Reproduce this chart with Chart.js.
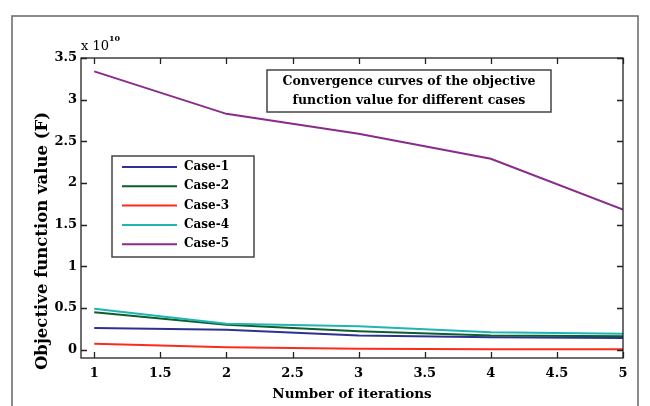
<!DOCTYPE html>
<html>
<head>
<meta charset="utf-8">
<script src="https://cdn.jsdelivr.net/npm/chart.js@4.4.1/dist/chart.umd.min.js"></script>
<style>
html, body { margin: 0; padding: 0; background: #fff; }
</style>
</head>
<body>
<canvas id="myChart" width="650" height="406"></canvas>
<script>
// objective function values, in units of 10^10
const iterations = [1, 2, 3, 4, 5];
const case1 = [0.26, 0.24, 0.17, 0.15, 0.14];
const case2 = [0.45, 0.30, 0.22, 0.17, 0.16];
const case3 = [0.07, 0.03, 0.01, 0.005, 0.005];
const case4 = [0.49, 0.31, 0.28, 0.21, 0.19];
const case5 = [3.34, 2.83, 2.59, 2.29, 1.68];
const caseLabels = ['Case-1', 'Case-2', 'Case-3', 'Case-4', 'Case-5'];
const caseColors = ['#2e3192', '#0b5e2e', '#ff2b1a', '#22b3b3', '#8a2b8c'];
const xTicks = [1, 1.5, 2, 2.5, 3, 3.5, 4, 4.5, 5];
const yTicks = [0, 0.5, 1, 1.5, 2, 2.5, 3, 3.5];
const titleLines = ['Convergence curves of the objective', 'function value for different cases'];
const yTitle = 'Objective function value (F)';

const serif = 'DejaVu Serif';
const allCases = [case1, case2, case3, case4, case5];

const datasets = allCases.map(function (values, i) {
    return {
        label: caseLabels[i],
        data: iterations.map(function (x, j) { return { x: x, y: values[j] }; }),
        borderColor: caseColors[i],
        backgroundColor: caseColors[i],
        borderWidth: 2,
        pointRadius: 0,
        tension: 0,
        order: 5 - i
    };
});

// frame, inward ticks, legend box, title box, exponent label, y title
const matlabLook = {
    id: 'matlabLook',
    beforeDraw: function (chart) {
        const c = chart.ctx;
        c.save();
        c.strokeStyle = '#666';
        c.lineWidth = 1.5;
        c.strokeRect(12, 16, 626, 420);
        c.restore();
    },
    afterDraw: function (chart) {
        const c = chart.ctx;
        const a = chart.chartArea;
        const xs = chart.scales.x;
        const ys = chart.scales.y;
        c.save();
        c.strokeStyle = '#222';
        c.lineWidth = 1.3;
        c.strokeRect(a.left, a.top, a.right - a.left, a.bottom - a.top);
        c.beginPath();
        xTicks.forEach(function (v) {
            const px = Math.round(xs.getPixelForValue(v)) + 0.5;
            c.moveTo(px, a.bottom); c.lineTo(px, a.bottom - 6);
            c.moveTo(px, a.top); c.lineTo(px, a.top + 6);
        });
        yTicks.forEach(function (v) {
            const py = Math.round(ys.getPixelForValue(v)) + 0.5;
            c.moveTo(a.left, py); c.lineTo(a.left + 6, py);
            c.moveTo(a.right, py); c.lineTo(a.right - 6, py);
        });
        c.stroke();

        // y axis title (sits lower than the axis centre in the original)
        c.fillStyle = '#000';
        c.save();
        c.translate(43, 241);
        c.rotate(-Math.PI / 2);
        c.textAlign = 'center';
        c.textBaseline = 'middle';
        c.font = 'bold 16.5px "' + serif + '"';
        c.fillText(yTitle, 0, 0);
        c.restore();

        // exponent
        c.textBaseline = 'alphabetic';
        c.textAlign = 'left';
        c.font = '13px "' + serif + '"';
        c.fillText('x 10', 81, 50);
        c.font = 'bold 8px "' + serif + '"';
        c.fillText('10', 109, 41);

        // title box
        c.fillStyle = '#fff';
        c.fillRect(267, 70, 284, 42);
        c.strokeStyle = '#444';
        c.lineWidth = 1.5;
        c.strokeRect(267, 70, 284, 42);
        c.fillStyle = '#000';
        c.textAlign = 'center';
        c.textBaseline = 'middle';
        c.font = 'bold 12.5px "' + serif + '"';
        c.fillText(titleLines[0], 409, 82);
        c.fillText(titleLines[1], 409, 101);

        // legend
        c.fillStyle = '#fff';
        c.fillRect(112, 156, 142, 101);
        c.strokeRect(112, 156, 142, 101);
        c.textAlign = 'left';
        c.font = 'bold 12px "' + serif + '"';
        caseLabels.forEach(function (lab, i) {
            const y = 167 + i * 19.3;
            c.strokeStyle = caseColors[i];
            c.lineWidth = 2;
            c.beginPath();
            c.moveTo(122, y); c.lineTo(177, y);
            c.stroke();
            c.fillStyle = '#000';
            c.fillText(lab, 184, y);
        });
        c.restore();
    }
};

new Chart(document.getElementById('myChart'), {
    type: 'line',
    data: { datasets: datasets },
    options: {
        responsive: false,
        animation: false,
        devicePixelRatio: 1,
        layout: { padding: { left: 12, right: 27, top: 58, bottom: 0 } },
        plugins: { legend: { display: false }, tooltip: { enabled: false } },
        scales: {
            x: {
                type: 'linear',
                min: 0.9, max: 5,
                afterBuildTicks: function (s) { s.ticks = xTicks.map(function (v) { return { value: v }; }); },
                afterFit: function (s) { s.height = 48; },
                grid: { display: false, drawTicks: false },
                border: { display: false },
                ticks: { color: '#000', padding: 8, autoSkip: false, maxRotation: 0, callback: function (v) { return String(v); }, font: { family: serif, size: 13, weight: 'bold' } },
                title: { display: true, text: 'Number of iterations', color: '#000', padding: { top: 0, bottom: 3 }, font: { family: serif, size: 13.5, weight: 'bold' } }
            },
            y: {
                min: -0.1, max: 3.5,
                afterBuildTicks: function (s) { s.ticks = yTicks.map(function (v) { return { value: v }; }); },
                afterFit: function (s) { s.width = 69; },
                grid: { display: false, drawTicks: false },
                border: { display: false },
                ticks: { color: '#000', padding: 4, callback: function (v) { return String(v); }, font: { family: serif, size: 13, weight: 'bold' } }
            }
        }
    },
    plugins: [matlabLook]
});
</script>
</body>
</html>
